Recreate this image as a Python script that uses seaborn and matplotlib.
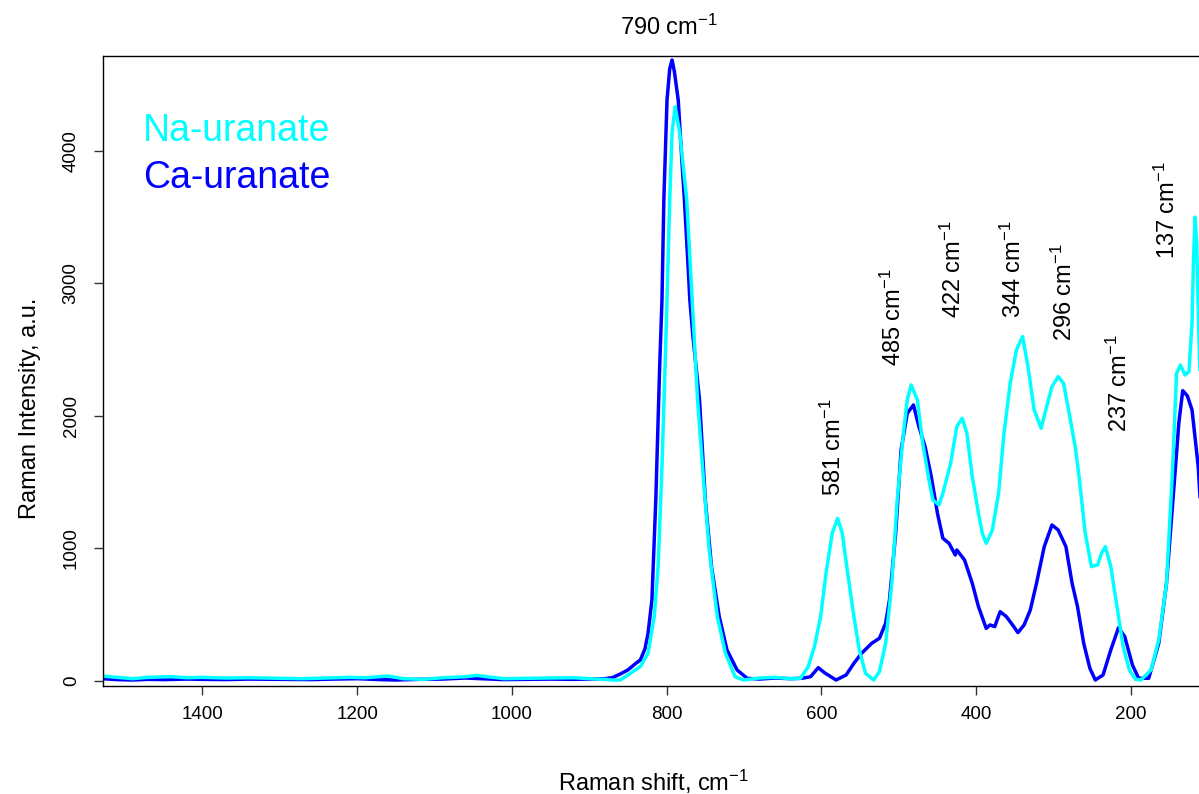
import matplotlib
matplotlib.use("Agg")
import matplotlib.pyplot as plt
import seaborn as sns
import pandas as pd

# ---------------- data ----------------
ca_shift = [1530, 1510, 1490, 1470, 1450, 1420, 1400, 1370, 1340, 1300, 1260, 1230, 1200,
            1170, 1150, 1120, 1090, 1060, 1040, 1010, 980, 950, 920, 900, 880, 870, 860,
            850, 840, 834, 828, 824, 819, 814, 809, 806, 803.6, 799.5, 796, 793, 790, 785,
            780, 777, 772, 770, 766, 757.5, 750, 742, 732, 722, 709, 696, 680, 660, 640,
            625, 614, 604, 596, 581, 568, 558, 548, 535, 525, 517, 512, 504, 497, 489, 481,
            474, 466, 458, 450, 443, 435, 427, 425, 415, 405, 397, 387, 382, 376, 369, 361,
            353, 346, 338, 330, 322, 312, 302, 294, 284, 276, 269, 261, 253, 246, 236, 226,
            216, 208, 198, 190, 177, 164, 154, 144, 138, 133, 127, 121, 113, 109]
ca_int = [15, 8, 5, 10, 8, 12, 10, 8, 12, 10, 8, 12, 15,
          8, 5, 10, 12, 20, 15, 8, 10, 12, 10, 12, 15, 23, 50,
          81, 130, 156, 240, 358, 610, 1365, 2371, 2875, 3629, 4384, 4620, 4687, 4600, 4384,
          3900, 3629, 3100, 2874, 2600, 2120, 1365, 861, 484, 232, 81, 18, 12, 20, 15,
          18, 30, 98, 60, 5, 43, 131, 207, 282, 320, 433, 610, 1113, 1742, 2019, 2082,
          1918, 1767, 1541, 1264, 1075, 1037, 949, 987, 911, 735, 559, 395, 421, 408, 521, 484,
          421, 363, 421, 534, 735, 1012, 1176, 1138, 1012, 735, 559, 282, 93, 5, 43, 232,
          400, 333, 118, 18, 18, 282, 735, 1491, 1950, 2190, 2150, 2044, 1616, 1214]

na_shift = [1530, 1515, 1490, 1470, 1440, 1420, 1400, 1370, 1340, 1300, 1270, 1240, 1210,
            1190, 1160, 1140, 1115, 1090, 1060, 1045, 1030, 1010, 980, 950, 920, 900, 880,
            870, 860, 850, 834, 824, 816, 811, 806, 802, 799.5, 796, 793, 789, 783, 774, 767,
            760, 752, 745, 734.5, 724, 711.5, 701, 680, 660, 640, 627, 617, 609, 601, 594,
            586, 579, 573, 566, 558, 551, 543, 532.5, 525, 517, 509, 502, 494, 489, 484, 476,
            469, 461, 456, 448, 443, 433, 425, 418, 412, 405, 397, 392, 387, 379, 371, 364,
            356, 348, 340, 333, 325, 316, 310, 302, 294, 287, 279, 272, 267, 259, 251, 243,
            238, 233, 226, 218, 210, 202, 194, 187, 174, 164, 154, 146, 141, 136, 130, 125,
            121, 119, 117, 115, 113, 111, 109]
na_int = [35, 28, 15, 25, 30, 22, 25, 20, 22, 18, 15, 20, 25,
          22, 35, 15, 10, 22, 30, 40, 28, 15, 18, 20, 22, 15, 10,
          5, 5, 43, 106, 207, 484, 861, 1616, 2371, 2874, 3629, 4135, 4334, 4135, 3629, 2874,
          2120, 1491, 987, 484, 207, 30, 5, 20, 25, 15, 18, 106, 257, 484, 811,
          1113, 1226, 1113, 811, 484, 232, 56, 5, 68, 282, 735, 1365, 1868, 2120, 2233, 2120,
          1792, 1516, 1365, 1327, 1415, 1641, 1918, 1981, 1868, 1541, 1264, 1113, 1037, 1138, 1415, 1868,
          2245, 2497, 2598, 2371, 2044, 1906, 2044, 2220, 2296, 2245, 1994, 1767, 1541, 1113, 861, 874,
          962, 1012, 861, 559, 257, 81, 10, 5, 81, 307, 735, 1616, 2321, 2384, 2308, 2334,
          2700, 3200, 3500, 3300, 2800, 2350, 2300]

series_names = ["Ca-uranate", "Na-uranate"]
series_colors = ["#0000FF", "#00FFFF"]

peak_labels = ["581", "485", "422", "344", "296", "237", "137"]
peak_label_x = [585, 506.5, 429.5, 352.6, 286.7, 215, 153.6]
peak_label_y = [1761, 2743, 3105, 3105, 2931, 2244, 3554]

x_ticks = [1400, 1200, 1000, 800, 600, 400, 200]
y_ticks = [0, 1000, 2000, 3000, 4000]

# ---------------- style ----------------
sns.set_style("ticks")
plt.rcParams["font.family"] = ["Liberation Sans", "DejaVu Sans"]
plt.rcParams["mathtext.fontset"] = "custom"
plt.rcParams["mathtext.rm"] = "Liberation Sans"
plt.rcParams["mathtext.it"] = "Liberation Sans:italic"
plt.rcParams["mathtext.bf"] = "Liberation Sans:bold"
plt.rcParams["mathtext.default"] = "regular"
plt.rcParams["text.color"] = "black"
plt.rcParams["axes.labelcolor"] = "black"
plt.rcParams["xtick.color"] = "black"
plt.rcParams["ytick.color"] = "black"

SUP = r"$^{-1}$"

df = pd.concat([
    pd.DataFrame({"shift": ca_shift, "intensity": ca_int, "sample": series_names[0]}),
    pd.DataFrame({"shift": na_shift, "intensity": na_int, "sample": series_names[1]}),
], ignore_index=True)

fig = plt.figure(figsize=(11.99, 7.94), dpi=100)
ax = fig.add_axes([0.0857, 0.1364, 0.9143, 0.7931])

sns.lineplot(data=df, x="shift", y="intensity", hue="sample",
             hue_order=series_names, palette=dict(zip(series_names, series_colors)),
             estimator=None, sort=True, legend=False, linewidth=2.5, ax=ax)

ax.set_xlim(1528.7, 112)
ax.set_ylim(-38, 4717)

ax.set_xticks(x_ticks)
ax.set_yticks(y_ticks)
ax.set_xticklabels([str(v) for v in x_ticks])
ax.set_yticklabels([str(v) for v in y_ticks], rotation=90, va="center")
ax.tick_params(axis="both", direction="out", length=6.5, width=1.0, color="#333333",
               labelsize=13.5, labelcolor="black")
ax.tick_params(axis="x", pad=8)
ax.tick_params(axis="y", pad=10)

for side in ["left", "bottom", "top"]:
    ax.spines[side].set_visible(True)
    ax.spines[side].set_color("black")
    ax.spines[side].set_linewidth(1.0)
ax.spines["right"].set_visible(False)

ax.set_xlabel("Raman shift, cm" + SUP, fontsize=17)
ax.set_ylabel("Raman Intensity, a.u.", fontsize=17)
ax.xaxis.set_label_coords(0.502, -0.13)
ax.yaxis.set_label_coords(-0.056, 0.44)

# legend as coloured text
ax.text(1476.6, 4072, series_names[1], color=series_colors[1], fontsize=27, ha="left", va="baseline")
ax.text(1476.6, 3720, series_names[0], color=series_colors[0], fontsize=27, ha="left", va="baseline")

# peak annotations
ax.text(797, 4936, "790 cm" + SUP, fontsize=17, ha="center", va="center", clip_on=False)
for lab, xx, yy in zip(peak_labels, peak_label_x, peak_label_y):
    ax.text(xx, yy, lab + " cm" + SUP, fontsize=17, rotation=90,
            ha="center", va="center", clip_on=False)

fig.savefig("out.png", dpi=100)
